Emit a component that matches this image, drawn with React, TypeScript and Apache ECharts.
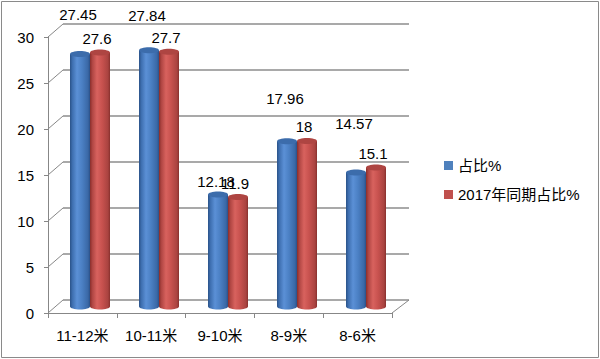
import React, { useEffect, useRef } from "react";
import * as echarts from "echarts";

const categories = ["11-12米", "10-11米", "9-10米", "8-9米", "8-6米"];
const shareValues = [27.45, 27.84, 12.18, 17.96, 14.57];
const lastYearValues = [27.6, 27.7, 11.9, 18, 15.1];
const seriesNames = ["占比%", "2017年同期占比%"];
const yTicks = [0, 5, 10, 15, 20, 25, 30];

// styling only: how far above the bar top each blue label sits (Excel auto placement)
const blueLabelLift = [39, 35, 13, 43, 49];

const FONT = '"Liberation Sans", "Noto Sans CJK SC", sans-serif';
const GRAY = "#878787";
const FS = 15;

const BARS = { left: 55.5, top: 30.5, width: 345, height: 276 };
const BACK = { left: 63, top: 24, width: 346, height: 276 };
const FRONT = { left: 48, top: 37, width: 344, height: 276 };

const BLUE = {
  legend: "#4f81bd",
  body: [
    [0, "#2a5288"],
    [0.12, "#3e6fb0"],
    [0.35, "#5b90d6"],
    [0.6, "#4b80c4"],
    [0.9, "#3a68a6"],
    [1, "#2a5088"],
  ],
  cap: "#3c6cab",
};
const RED = {
  legend: "#c0504d",
  body: [
    [0, "#8a2e2b"],
    [0.12, "#b04643"],
    [0.35, "#d8625e"],
    [0.6, "#c8524f"],
    [0.9, "#a94340"],
    [1, "#87302d"],
  ],
  cap: "#ae4542",
};

function makeRender(side: number, palette: any, labelLift: (i: number) => number, labelDx: number) {
  return (params: any, api: any) => {
    const i = api.value(0);
    const v = api.value(1);
    const top = api.coord([i, v]);
    const base = api.coord([i, 0]);
    const w = 20;
    const cx = top[0] + (side * w) / 2;
    const x0 = cx - w / 2;
    const ry = 3;
    const grad = new echarts.graphic.LinearGradient(
      0,
      0,
      1,
      0,
      palette.body.map((s: any) => ({ offset: s[0], color: s[1] }))
    );
    return {
      type: "group",
      children: [
        {
          type: "ellipse",
          shape: { cx, cy: base[1], rx: w / 2, ry },
          style: { fill: grad },
        },
        {
          type: "rect",
          shape: { x: x0, y: top[1], width: w, height: base[1] - top[1] },
          style: { fill: grad },
        },
        {
          type: "ellipse",
          shape: { cx, cy: top[1], rx: w / 2, ry },
          style: { fill: palette.cap },
        },
        {
          type: "text",
          style: {
            text: String(v),
            x: cx + labelDx,
            y: top[1] - labelLift(params.dataIndex),
            align: "center",
            verticalAlign: "middle",
            fill: "#000",
            fontSize: FS,
            fontFamily: FONT,
          },
        },
      ],
    };
  };
}

export default function App() {
  const ref = useRef<HTMLDivElement>(null);
  useEffect(() => {
    document.body.style.margin = "0";
    if (!ref.current) return;
    const chart = echarts.init(ref.current, undefined, { renderer: "svg" });
    const hiddenCat = (gi: number) => ({
      type: "category",
      gridIndex: gi,
      data: categories,
      show: false,
    });
    const hiddenVal = (gi: number) => ({
      type: "value",
      gridIndex: gi,
      min: 0,
      max: 30,
      interval: 5,
      show: false,
      splitLine: { show: false },
    });
    chart.setOption({
      animation: false,
      legend: {
        orient: "vertical",
        left: 439,
        top: 153,
        itemWidth: 9,
        itemHeight: 9,
        itemGap: 14,
        icon: "rect",
        data: seriesNames,
        textStyle: { color: "#000", fontSize: FS, fontFamily: FONT, padding: [0, 0, 0, 0] },
      },
      grid: [
        { ...BARS, containLabel: false },
        { ...BACK, containLabel: false },
        { ...FRONT, containLabel: false },
      ],
      xAxis: [
        hiddenCat(0),
        hiddenCat(1),
        {
          type: "category",
          gridIndex: 2,
          data: categories,
          axisLine: { show: true, lineStyle: { color: GRAY, width: 1 } },
          axisTick: { show: true, length: 5, lineStyle: { color: GRAY } },
          axisLabel: { color: "#000", fontSize: FS, fontFamily: FONT, margin: 15 },
        },
      ],
      yAxis: [
        hiddenVal(0),
        {
          type: "value",
          gridIndex: 1,
          min: 0,
          max: 30,
          interval: 5,
          axisLine: { show: false },
          axisTick: { show: false },
          axisLabel: { show: false },
          splitLine: { show: true, lineStyle: { color: "#8c8c8c", width: 1.5 } },
        },
        {
          type: "value",
          gridIndex: 2,
          min: 0,
          max: 30,
          interval: 5,
          axisLine: { show: true, lineStyle: { color: GRAY, width: 1 } },
          axisTick: { show: true, length: 4, lineStyle: { color: GRAY } },
          axisLabel: { color: "#000", fontSize: FS, fontFamily: FONT, margin: 14 },
          splitLine: { show: false },
        },
      ],
      series: [
        {
          name: seriesNames[0],
          type: "custom",
          xAxisIndex: 0,
          yAxisIndex: 0,
          itemStyle: { color: BLUE.legend },
          encode: { x: 0, y: 1 },
          data: shareValues.map((v, i) => [i, v]),
          renderItem: makeRender(-1, BLUE, (i) => blueLabelLift[i], -2),
          z: 3,
        },
        {
          name: seriesNames[1],
          type: "custom",
          xAxisIndex: 0,
          yAxisIndex: 0,
          itemStyle: { color: RED.legend },
          encode: { x: 0, y: 1 },
          data: lastYearValues.map((v, i) => [i, v]),
          renderItem: makeRender(1, RED, () => 14, -3),
          z: 4,
        },
      ],
    });

    const frontX = FRONT.left;
    const backX = BACK.left;
    const diagonals = yTicks.map((t) => {
      const fy = chart.convertToPixel({ yAxisIndex: 2 } as any, t) as number;
      const by = chart.convertToPixel({ yAxisIndex: 1 } as any, t) as number;
      return {
        type: "line",
        shape: { x1: frontX, y1: fy, x2: backX, y2: by },
        style: { stroke: GRAY, lineWidth: 1 },
        silent: true,
      };
    });
    const fy0 = chart.convertToPixel({ yAxisIndex: 2 } as any, 0) as number;
    const by0 = chart.convertToPixel({ yAxisIndex: 1 } as any, 0) as number;
    chart.setOption({
      graphic: [
        ...diagonals,
        {
          type: "line",
          shape: {
            x1: FRONT.left + FRONT.width,
            y1: fy0,
            x2: BACK.left + BACK.width,
            y2: by0,
          },
          style: { stroke: GRAY, lineWidth: 1 },
          silent: true,
        },
        {
          type: "rect",
          shape: { x: 1.5, y: 1.5, width: 597, height: 356 },
          style: { fill: "none", stroke: "#8a8a8a", lineWidth: 1 },
          silent: true,
        },
      ],
    });
    return () => chart.dispose();
  }, []);
  return <div ref={ref} style={{ width: 600, height: 359 }} />;
}
